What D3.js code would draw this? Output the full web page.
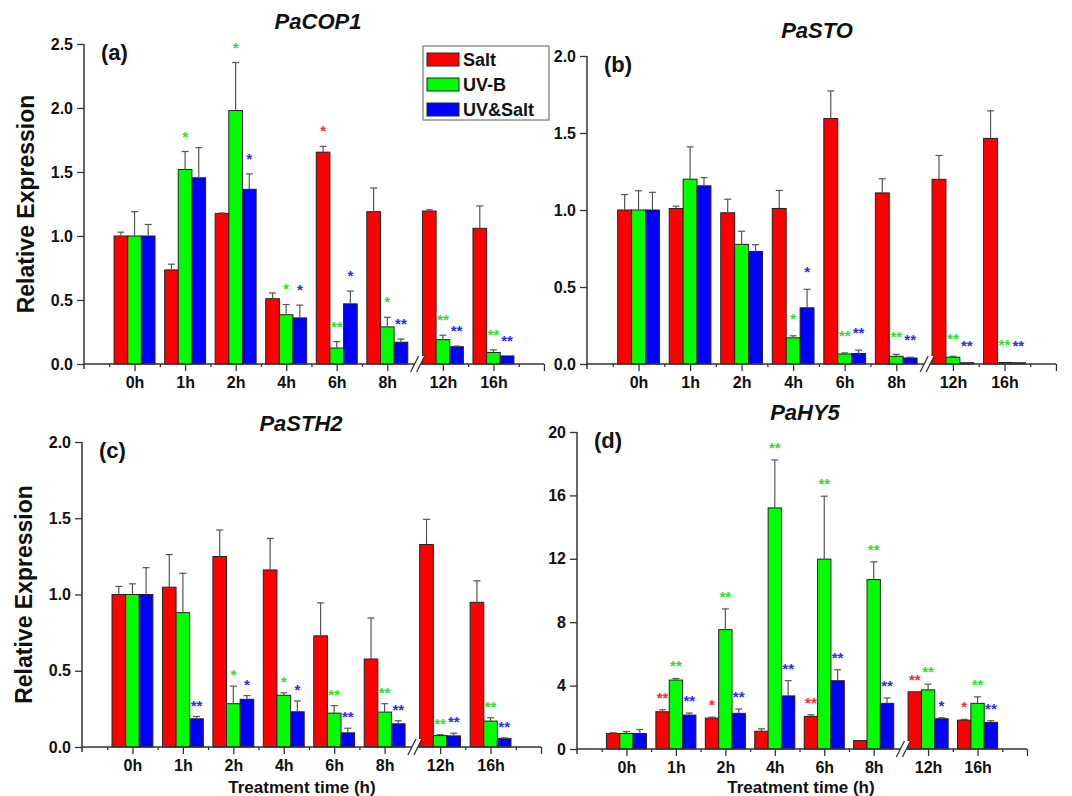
<!DOCTYPE html>
<html>
<head>
<meta charset="utf-8">
<script src="https://cdnjs.cloudflare.com/ajax/libs/d3/7.8.5/d3.min.js"></script>
<style>
  body { margin: 0; background: #fff; }
  text { font-family: "Liberation Sans", Arial, sans-serif; font-weight: bold; }
</style>
</head>
<body>
<div id="chart"></div>
<script>
// Treatment time points and series
var times = ["0h", "1h", "2h", "4h", "6h", "8h", "12h", "16h"];
var seriesNames = ["Salt", "UV-B", "UV&Salt"];
var seriesColors = ["#ff0000", "#00ff00", "#0000ff"];
var starColors = ["#ff2a2a", "#2ee02e", "#2a2aff"];

// (a) PaCOP1
var cop1Salt = [1.00, 0.735, 1.175, 0.51, 1.655, 1.19, 1.195, 1.06];
var cop1SaltSd = [0.03, 0.045, 0.005, 0.045, 0.045, 0.185, 0.01, 0.175];
var cop1Uvb = [1.00, 1.52, 1.98, 0.385, 0.125, 0.29, 0.19, 0.09];
var cop1UvbSd = [0.19, 0.14, 0.375, 0.08, 0.05, 0.075, 0.035, 0.02];
var cop1Both = [1.00, 1.455, 1.365, 0.36, 0.47, 0.17, 0.135, 0.063];
var cop1BothSd = [0.09, 0.235, 0.12, 0.10, 0.10, 0.025, 0.005, 0];
var cop1Sig = [
  ["", "", "", "", "*", "", "", ""],
  ["", "*", "*", "*", "**", "*", "**", "**"],
  ["", "", "*", "*", "*", "**", "**", "**"]
];

// (b) PaSTO
var stoSalt = [1.00, 1.01, 0.982, 1.01, 1.594, 1.111, 1.199, 1.465];
var stoSaltSd = [0.10, 0.015, 0.088, 0.117, 0.179, 0.092, 0.155, 0.179];
var stoUvb = [1.00, 1.20, 0.777, 0.17, 0.065, 0.05, 0.044, 0.01];
var stoUvbSd = [0.125, 0.21, 0.085, 0.013, 0.007, 0.013, 0.006, 0];
var stoBoth = [1.00, 1.157, 0.731, 0.365, 0.068, 0.039, 0.008, 0.008];
var stoBothSd = [0.115, 0.053, 0.044, 0.12, 0.022, 0.005, 0, 0];
var stoSig = [
  ["", "", "", "", "", "", "", ""],
  ["", "", "", "*", "**", "**", "**", "**"],
  ["", "", "", "*", "**", "**", "**", "**"]
];

// (c) PaSTH2
var sth2Salt = [1.00, 1.048, 1.249, 1.161, 0.729, 0.577, 1.328, 0.949];
var sth2SaltSd = [0.053, 0.214, 0.174, 0.207, 0.216, 0.269, 0.165, 0.141];
var sth2Uvb = [1.00, 0.881, 0.284, 0.339, 0.222, 0.229, 0.075, 0.17];
var sth2UvbSd = [0.07, 0.258, 0.115, 0.016, 0.049, 0.055, 0.006, 0.022];
var sth2Both = [1.00, 0.185, 0.313, 0.231, 0.093, 0.152, 0.073, 0.055];
var sth2BothSd = [0.176, 0.015, 0.024, 0.071, 0.03, 0.02, 0.017, 0.005];
var sth2Sig = [
  ["", "", "", "", "", "", "", ""],
  ["", "", "*", "*", "**", "**", "**", "**"],
  ["", "**", "*", "*", "**", "**", "**", "**"]
];

// (d) PaHY5
var hy5Salt = [0.98, 2.35, 1.95, 1.12, 2.06, 0.53, 3.61, 1.82];
var hy5SaltSd = [0.04, 0.13, 0.06, 0.15, 0.10, 0, 0, 0.05];
var hy5Uvb = [0.98, 4.35, 7.53, 15.21, 11.98, 10.69, 3.73, 2.88];
var hy5UvbSd = [0.12, 0.10, 1.31, 3.03, 3.97, 1.12, 0.36, 0.41];
var hy5Both = [0.98, 2.14, 2.25, 3.35, 4.31, 2.88, 1.91, 1.68];
var hy5BothSd = [0.25, 0.13, 0.27, 0.96, 0.69, 0.34, 0.06, 0.10];
var hy5Sig = [
  ["", "**", "*", "", "**", "", "**", "*"],
  ["", "**", "**", "**", "**", "**", "**", "**"],
  ["", "**", "**", "**", "**", "**", "*", "**"]
];

var svg = d3.select("#chart")
  .append("svg")
  .attr("width", 1072)
  .attr("height", 796);

// slot position on the x scale, with a small gap for the axis break
function pos(i) {
  return i + (i >= 6 ? 0.1 : 0);
}

function drawPanel(p) {
  var g = svg.append("g");

  var x = d3.scaleLinear().domain([-1, 8.1]).range([p.left, p.right]);
  var y = d3.scaleLinear().domain([0, p.yMax]).range([p.bottom, p.top]);
  var bw = (x(1) - x(0)) * 0.27;

  // bars, one group per time point
  p.means.forEach(function(vals, s) {
    g.selectAll(null)
      .data(vals)
      .enter()
      .append("rect")
      .attr("x", (d, i) => x(pos(i)) + (s - 1.5) * bw)
      .attr("y", d => y(d))
      .attr("width", bw)
      .attr("height", d => y(0) - y(d))
      .attr("fill", seriesColors[s])
      .attr("stroke", "#222")
      .attr("stroke-width", 1);
  });

  // upper error bars
  p.means.forEach(function(vals, s) {
    var rows = vals.map((d, i) => ({ i: i, m: d, sd: p.sds[s][i] })).filter(d => d.sd > 0);
    var cx = d => x(pos(d.i)) + (s - 1) * bw;
    g.selectAll(null).data(rows).enter().append("line")
      .attr("x1", cx).attr("x2", cx)
      .attr("y1", d => y(d.m)).attr("y2", d => y(d.m + d.sd))
      .attr("stroke", "#555").attr("stroke-width", 1.2);
    g.selectAll(null).data(rows).enter().append("line")
      .attr("x1", d => cx(d) - 3.5).attr("x2", d => cx(d) + 3.5)
      .attr("y1", d => y(d.m + d.sd)).attr("y2", d => y(d.m + d.sd))
      .attr("stroke", "#555").attr("stroke-width", 1.2);
  });

  // significance stars
  p.sig.forEach(function(marks, s) {
    var rows = marks.map((d, i) => ({ i: i, t: d, top: p.means[s][i] + p.sds[s][i] })).filter(d => d.t !== "");
    g.selectAll(null).data(rows).enter().append("text")
      .attr("x", d => x(pos(d.i)) + (s - 1) * bw)
      .attr("y", d => y(d.top) - p.starGap + 8)
      .attr("text-anchor", "middle")
      .attr("font-size", 15)
      .attr("fill", starColors[s])
      .text(d => d.t);
  });

  // y axis
  var yAxis = g.append("g")
    .attr("transform", `translate(${p.left}, 0)`)
    .call(d3.axisLeft(y).tickValues(p.yTicks).tickFormat(p.yFormat).tickSize(7).tickSizeOuter(0).tickPadding(4));
  yAxis.select(".domain").remove();
  yAxis.selectAll("line").attr("stroke", "#333").attr("stroke-width", 1.3);
  yAxis.selectAll("text").attr("font-size", 16).attr("fill", "#111");
  g.append("line")
    .attr("x1", p.left).attr("x2", p.left)
    .attr("y1", p.top).attr("y2", p.bottom + 5)
    .attr("stroke", "#333").attr("stroke-width", 1.5);

  // x axis: labelled ticks at each time point, short ticks between them
  var xAxis = g.append("g")
    .attr("transform", `translate(0, ${p.bottom})`)
    .call(d3.axisBottom(x).tickValues(times.map((t, i) => pos(i)).concat([8.1]))
      .tickFormat((d, i) => times[i] || "").tickSize(7).tickSizeOuter(0).tickPadding(6));
  xAxis.select(".domain").remove();
  xAxis.selectAll("line").attr("stroke", "#333").attr("stroke-width", 1.3);
  xAxis.selectAll("text").attr("font-size", 16).attr("fill", "#111");

  var minor = g.append("g")
    .attr("transform", `translate(0, ${p.bottom})`)
    .call(d3.axisBottom(x).tickValues([-0.5, 0.5, 1.5, 2.5, 3.5, 4.5, 6.6, 7.6]).tickFormat("").tickSize(3).tickSizeOuter(0));
  minor.select(".domain").remove();
  minor.selectAll("line").attr("stroke", "#333").attr("stroke-width", 1.3);

  g.append("line")
    .attr("x1", p.left).attr("x2", p.right)
    .attr("y1", p.bottom).attr("y2", p.bottom)
    .attr("stroke", "#333").attr("stroke-width", 1.5);

  // axis break "//"
  var bx = x(5.6);
  var b = p.bottom;
  g.append("polygon")
    .attr("points", [[bx - 7, b + 8], [bx + 1, b - 8], [bx + 7, b - 8], [bx - 1, b + 8]].join(" "))
    .attr("fill", "#fff");
  [-3, 3].forEach(function(dx) {
    g.append("line")
      .attr("x1", bx + dx - 4).attr("y1", b + 8)
      .attr("x2", bx + dx + 4).attr("y2", b - 8)
      .attr("stroke", "#333").attr("stroke-width", 1.3);
  });

  // gene name, panel letter
  g.append("text")
    .attr("x", p.titleX).attr("y", p.titleY)
    .attr("text-anchor", "middle")
    .attr("font-size", 22)
    .attr("font-style", "italic")
    .attr("fill", "#111")
    .text(p.title);

  g.append("text")
    .attr("x", p.left + 17).attr("y", p.top + 16)
    .attr("font-size", 22)
    .attr("fill", "#111")
    .text(p.letter);

  if (p.yLabel) {
    g.append("text")
      .attr("transform", `translate(${p.left - 50}, ${(p.top + p.bottom) / 2}) rotate(-90)`)
      .attr("text-anchor", "middle")
      .attr("font-size", 23)
      .attr("fill", "#111")
      .text("Relative Expression");
  }

  if (p.xLabel) {
    g.append("text")
      .attr("x", p.xLabelX).attr("y", 793)
      .attr("text-anchor", "middle")
      .attr("font-size", 17)
      .attr("fill", "#111")
      .text("Treatment time (h)");
  }
}

drawPanel({
  left: 84, right: 544, top: 44, bottom: 364, yMax: 2.5,
  yTicks: [0, 0.5, 1, 1.5, 2, 2.5], yFormat: d3.format(".1f"),
  means: [cop1Salt, cop1Uvb, cop1Both], sds: [cop1SaltSd, cop1UvbSd, cop1BothSd], sig: cop1Sig,
  starGap: 18, title: "PaCOP1", titleX: 318, titleY: 29, letter: "(a)", yLabel: true
});

drawPanel({
  left: 587, right: 1056, top: 56, bottom: 364, yMax: 2.0,
  yTicks: [0, 0.5, 1, 1.5, 2], yFormat: d3.format(".1f"),
  means: [stoSalt, stoUvb, stoBoth], sds: [stoSaltSd, stoUvbSd, stoBothSd], sig: stoSig,
  starGap: 20, title: "PaSTO", titleX: 817, titleY: 38, letter: "(b)"
});

drawPanel({
  left: 82, right: 541, top: 442, bottom: 747, yMax: 2.0,
  yTicks: [0, 0.5, 1, 1.5, 2], yFormat: d3.format(".1f"),
  means: [sth2Salt, sth2Uvb, sth2Both], sds: [sth2SaltSd, sth2UvbSd, sth2BothSd], sig: sth2Sig,
  starGap: 14, title: "PaSTH2", titleX: 301, titleY: 431, letter: "(c)", yLabel: true,
  xLabel: true, xLabelX: 302
});

drawPanel({
  left: 577, right: 1027, top: 432, bottom: 749, yMax: 20,
  yTicks: [0, 4, 8, 12, 16, 20], yFormat: d3.format("d"),
  means: [hy5Salt, hy5Uvb, hy5Both], sds: [hy5SaltSd, hy5UvbSd, hy5BothSd], sig: hy5Sig,
  starGap: 15, title: "PaHY5", titleX: 805, titleY: 420, letter: "(d)",
  xLabel: true, xLabelX: 801
});

// legend inside panel (a)
var legend = svg.append("g");
legend.append("rect")
  .attr("x", 423).attr("y", 46).attr("width", 126).attr("height", 74)
  .attr("fill", "#fff").attr("stroke", "#777").attr("stroke-width", 1.2);
seriesNames.forEach(function(name, s) {
  legend.append("rect")
    .attr("x", 427).attr("y", 53 + s * 25).attr("width", 32).attr("height", 13)
    .attr("fill", seriesColors[s]).attr("stroke", "#222");
  legend.append("text")
    .attr("x", 463).attr("y", 66 + s * 25)
    .attr("font-size", 18)
    .attr("fill", "#111")
    .text(name);
});
</script>
</body>
</html>
